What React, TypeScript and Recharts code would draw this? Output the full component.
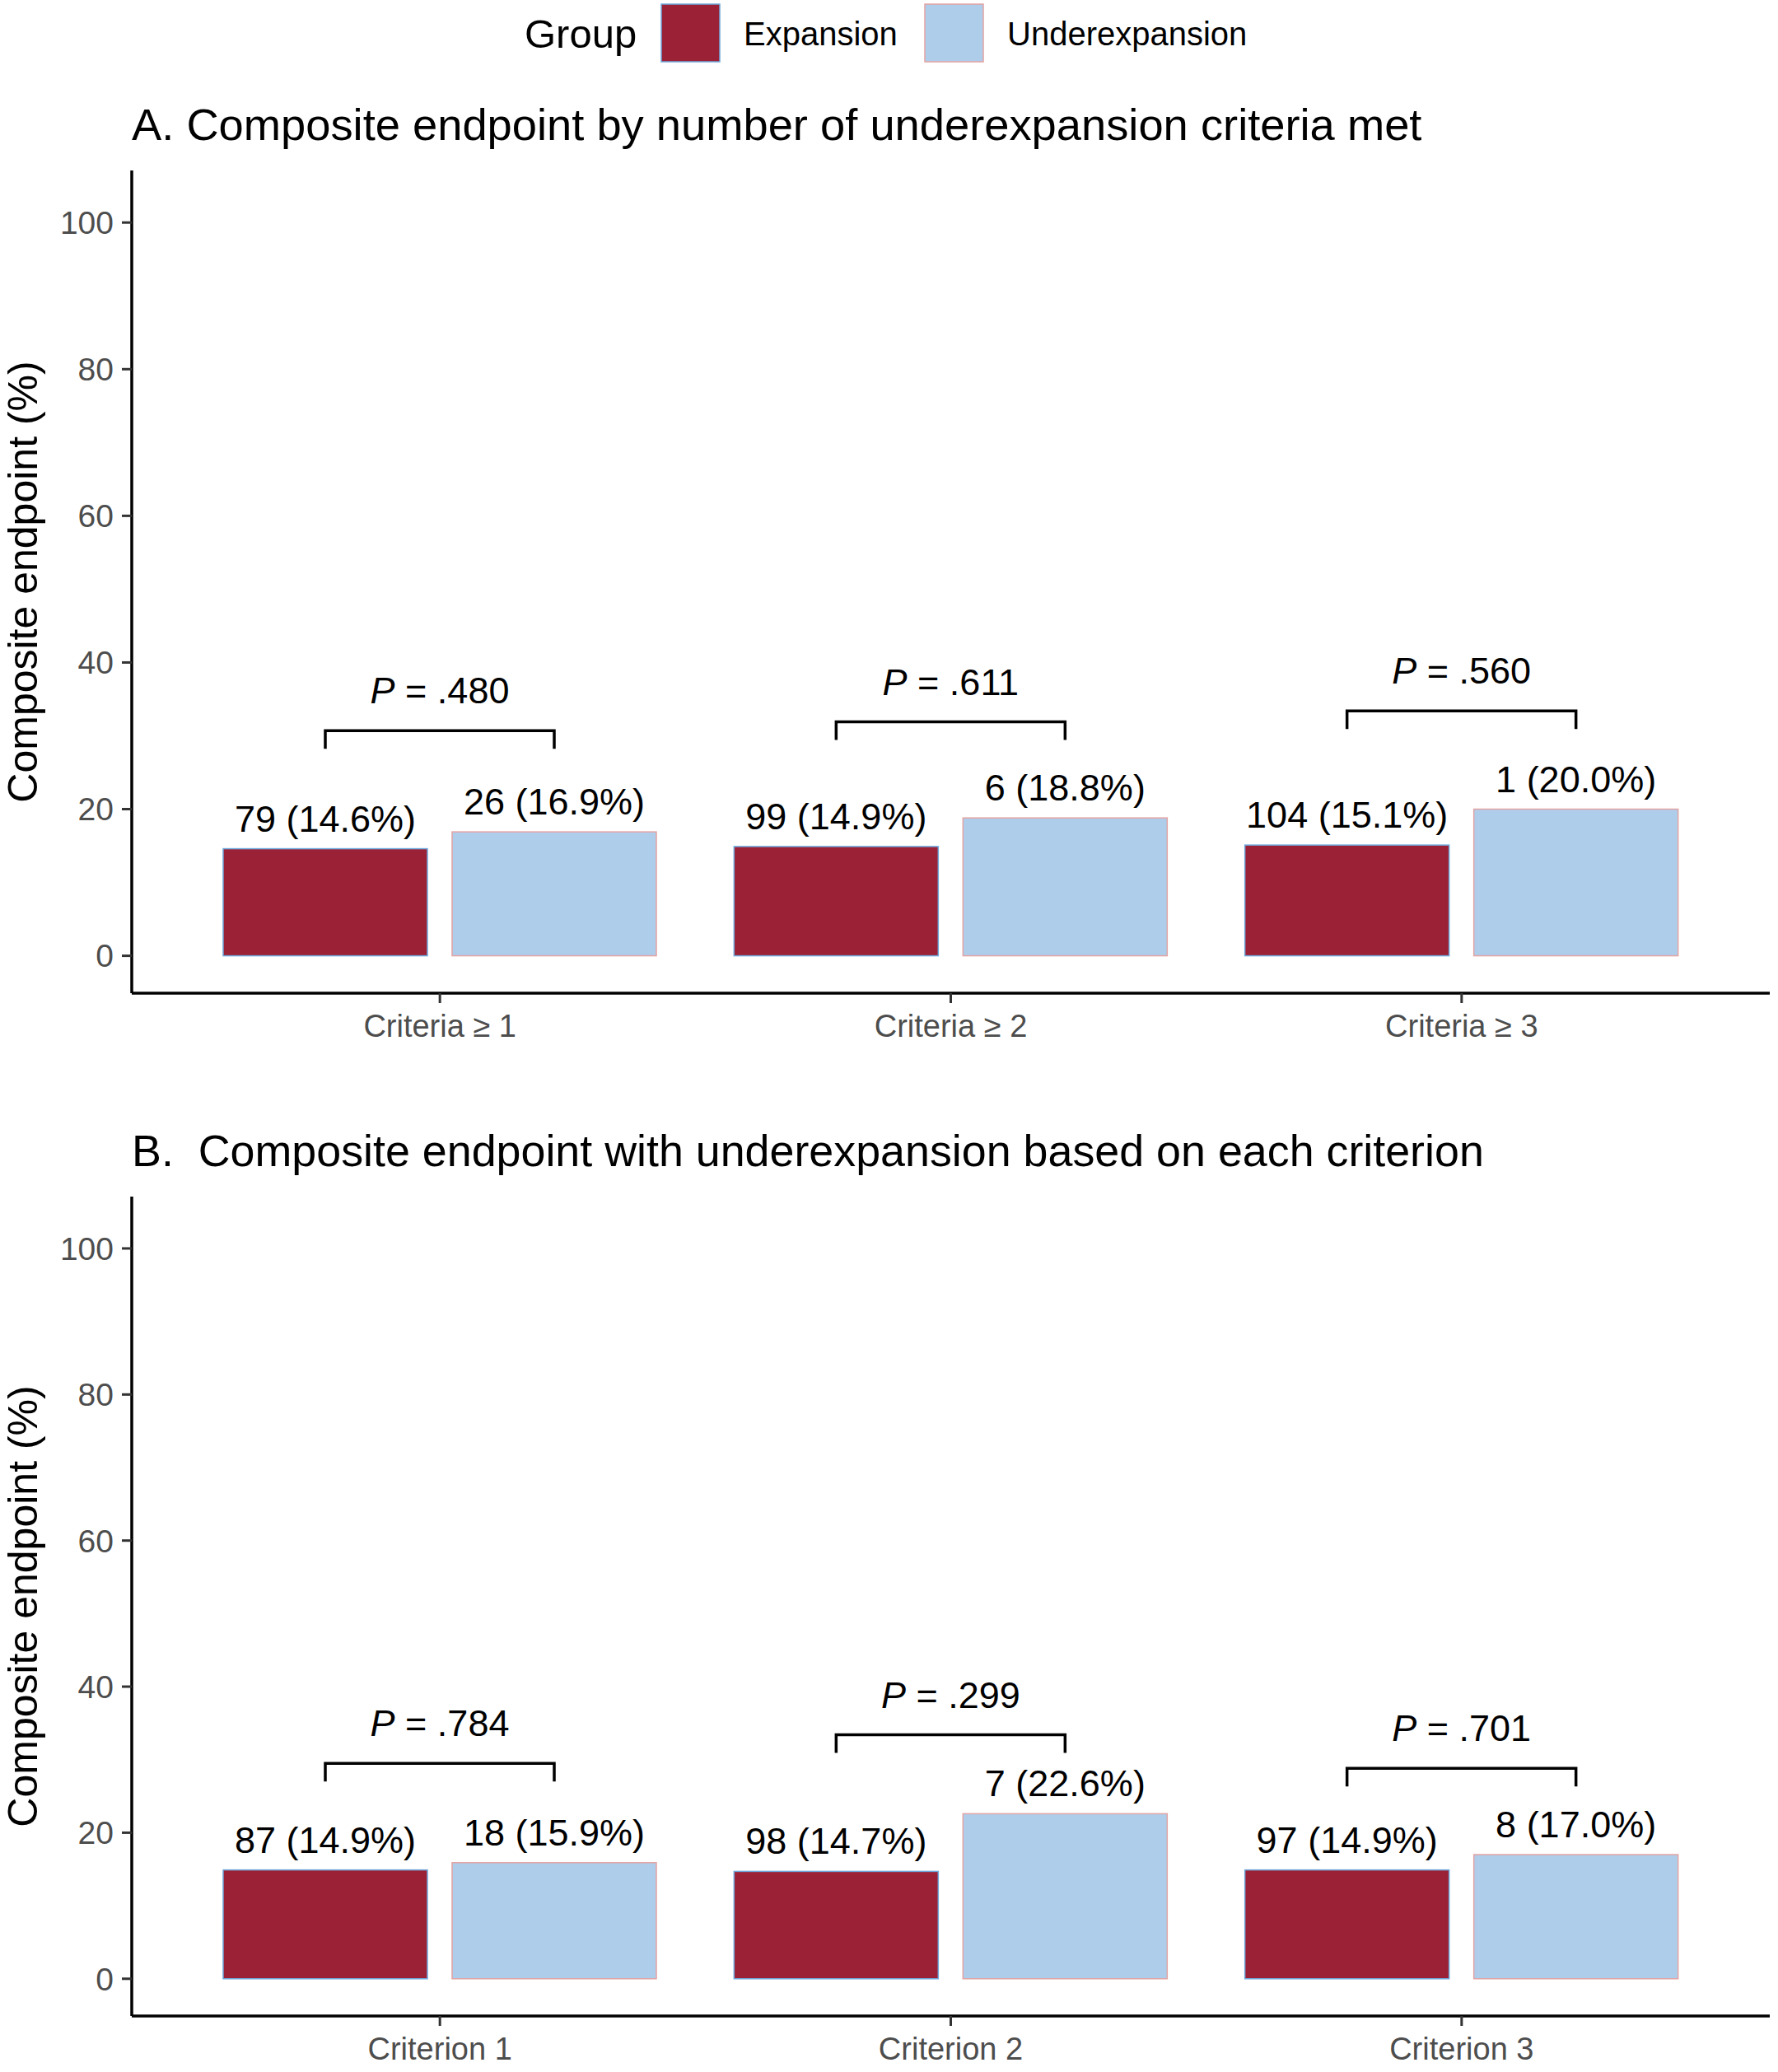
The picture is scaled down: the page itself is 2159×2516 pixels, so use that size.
import React from 'react';
import { BarChart, Bar, XAxis, YAxis } from 'recharts';

// groups
const groups = ['Expansion', 'Underexpansion'];
const groupFill = ['#9B2236', '#AECDEB'];
const groupStroke = ['#6FA8DC', '#E3A3A3'];

// panel A
const categoriesA = ['Criteria ≥ 1', 'Criteria ≥ 2', 'Criteria ≥ 3'];
const expansionNA = [79, 99, 104];
const expansionPctA = [14.6, 14.9, 15.1];
const underNA = [26, 6, 1];
const underPctA = [16.9, 18.8, 20.0];
const pValuesA = ['.480', '.611', '.560'];
const bracketA = [30.7, 31.9, 33.4];

// panel B
const categoriesB = ['Criterion 1', 'Criterion 2', 'Criterion 3'];
const expansionNB = [87, 98, 97];
const expansionPctB = [14.9, 14.7, 14.9];
const underNB = [18, 7, 8];
const underPctB = [15.9, 22.6, 17.0];
const pValuesB = ['.784', '.299', '.701'];
const bracketB = [29.5, 33.4, 28.8];

const yTicks = [0, 20, 40, 60, 80, 100];

const W = 2159;
const BAR = 248;
const GAP = 30;
const FONT = '"Liberation Sans", Arial, Helvetica, sans-serif';

const buildRows = (
  cats: string[], expN: number[], expPct: number[],
  undN: number[], undPct: number[], pv: string[], br: number[]
) => cats.map((c, i) => ({
  cat: c, exp: expPct[i], under: undPct[i],
  expN: expN[i], underN: undN[i], p: pv[i], bracket: br[i],
}));

const rowsA = buildRows(categoriesA, expansionNA, expansionPctA, underNA, underPctA, pValuesA, bracketA);
const rowsB = buildRows(categoriesB, expansionNB, expansionPctB, underNB, underPctB, pValuesB, bracketB);

const fmt = (n: number, pct: number) => `${n} (${pct.toFixed(1)}%)`;

const ExpansionShape = (props: any) => {
  const { x, y, width, height, payload } = props;
  return (
    <g>
      <rect x={x} y={y} width={width} height={height} fill={groupFill[0]} stroke={groupStroke[0]} strokeWidth={1.5} />
      <text x={x + width / 2} y={y - 21} textAnchor="middle" fontSize={45} fontFamily={FONT} fill="#000">
        {fmt(payload.expN, payload.exp)}
      </text>
    </g>
  );
};

const UnderShape = (props: any) => {
  const { x, y, width, height, payload } = props;
  const zero = y + height;
  const k = height / payload.under;
  const by = zero - payload.bracket * k;
  const x2 = x + width / 2;
  const x1 = x2 - (BAR + GAP);
  return (
    <g>
      <rect x={x} y={y} width={width} height={height} fill={groupFill[1]} stroke={groupStroke[1]} strokeWidth={1.5} />
      <text x={x + width / 2} y={y - 21} textAnchor="middle" fontSize={45} fontFamily={FONT} fill="#000">
        {fmt(payload.underN, payload.under)}
      </text>
      <path d={`M${x1},${by + 22} V${by} H${x2} V${by + 22}`} fill="none" stroke="#000" strokeWidth={3.5} />
      <text x={(x1 + x2) / 2} y={by - 33} textAnchor="middle" fontSize={45} fontFamily={FONT} fill="#000">
        <tspan fontStyle="italic">P</tspan>{' = ' + payload.p}
      </text>
    </g>
  );
};

const YLabel = (props: any) => {
  const vb = props.viewBox || {};
  const cy = (vb.y || 0) + (vb.height || 0) / 2;
  return (
    <text x={45} y={cy} transform={`rotate(-90 45 ${cy})`} textAnchor="middle" fontSize={50} fontFamily={FONT} fill="#000">
      Composite endpoint (%)
    </text>
  );
};

function Panel({ rows, top, height, bottom }: { rows: any[]; top: number; height: number; bottom: number }) {
  return (
    <div style={{ position: 'absolute', left: 0, top }}>
      <BarChart
        width={W}
        height={height}
        data={rows}
        margin={{ top: 207, right: 10, left: 60, bottom }}
        barGap={GAP}
        barSize={BAR}
      >
        <XAxis
          dataKey="cat"
          interval={0}
          padding={{ left: 64, right: 64 }}
          height={60}
          tickSize={12}
          tickMargin={14}
          tick={{ fill: '#4D4D4D', fontSize: 38, fontFamily: FONT }}
          axisLine={{ stroke: '#000', strokeWidth: 3.5 }}
          tickLine={{ stroke: '#333', strokeWidth: 3 }}
        />
        <YAxis
          type="number"
          domain={[-5.1, 107.1]}
          allowDataOverflow
          ticks={yTicks}
          width={100}
          tickSize={12}
          tickMargin={10}
          tick={{ fill: '#4D4D4D', fontSize: 39, fontFamily: FONT }}
          axisLine={{ stroke: '#000', strokeWidth: 3.5 }}
          tickLine={{ stroke: '#333', strokeWidth: 3 }}
          label={<YLabel />}
        />
        <Bar dataKey="exp" name={groups[0]} fill={groupFill[0]} shape={ExpansionShape} isAnimationActive={false} />
        <Bar dataKey="under" name={groups[1]} fill={groupFill[1]} shape={UnderShape} isAnimationActive={false} />
      </BarChart>
    </div>
  );
}

const titleStyle = (top: number, size: number): React.CSSProperties => ({
  position: 'absolute', left: 160, top, fontSize: size, lineHeight: '54px',
  fontFamily: FONT, color: '#000', whiteSpace: 'pre',
});

export default function App() {
  const swatchX = [803, 1123];
  const textX = [903, 1223];
  return (
    <div style={{ position: 'absolute', left: 0, top: 0, width: W, height: 2516, background: '#fff' }}>
      <svg width={W} height={90} style={{ position: 'absolute', left: 0, top: 0 }}>
        <text x={637} y={58} fontSize={49} fontFamily={FONT} fill="#000">Group</text>
        {groups.map((g, i) => (
          <g key={g}>
            <rect x={swatchX[i]} y={5} width={71} height={70} fill={groupFill[i]} stroke={groupStroke[i]} strokeWidth={1.5} />
            <text x={textX[i]} y={55} fontSize={40} fontFamily={FONT} fill="#000">{g}</text>
          </g>
        ))}
      </svg>
      <div style={titleStyle(125, 54.3)}>A. Composite endpoint by number of underexpansion criteria met</div>
      <Panel rows={rowsA} top={0} height={1300} bottom={34} />
      <div style={titleStyle(1370, 53.8)}>B.  Composite endpoint with underexpansion based on each criterion</div>
      <Panel rows={rowsB} top={1246} height={1270} bottom={8} />
    </div>
  );
}
